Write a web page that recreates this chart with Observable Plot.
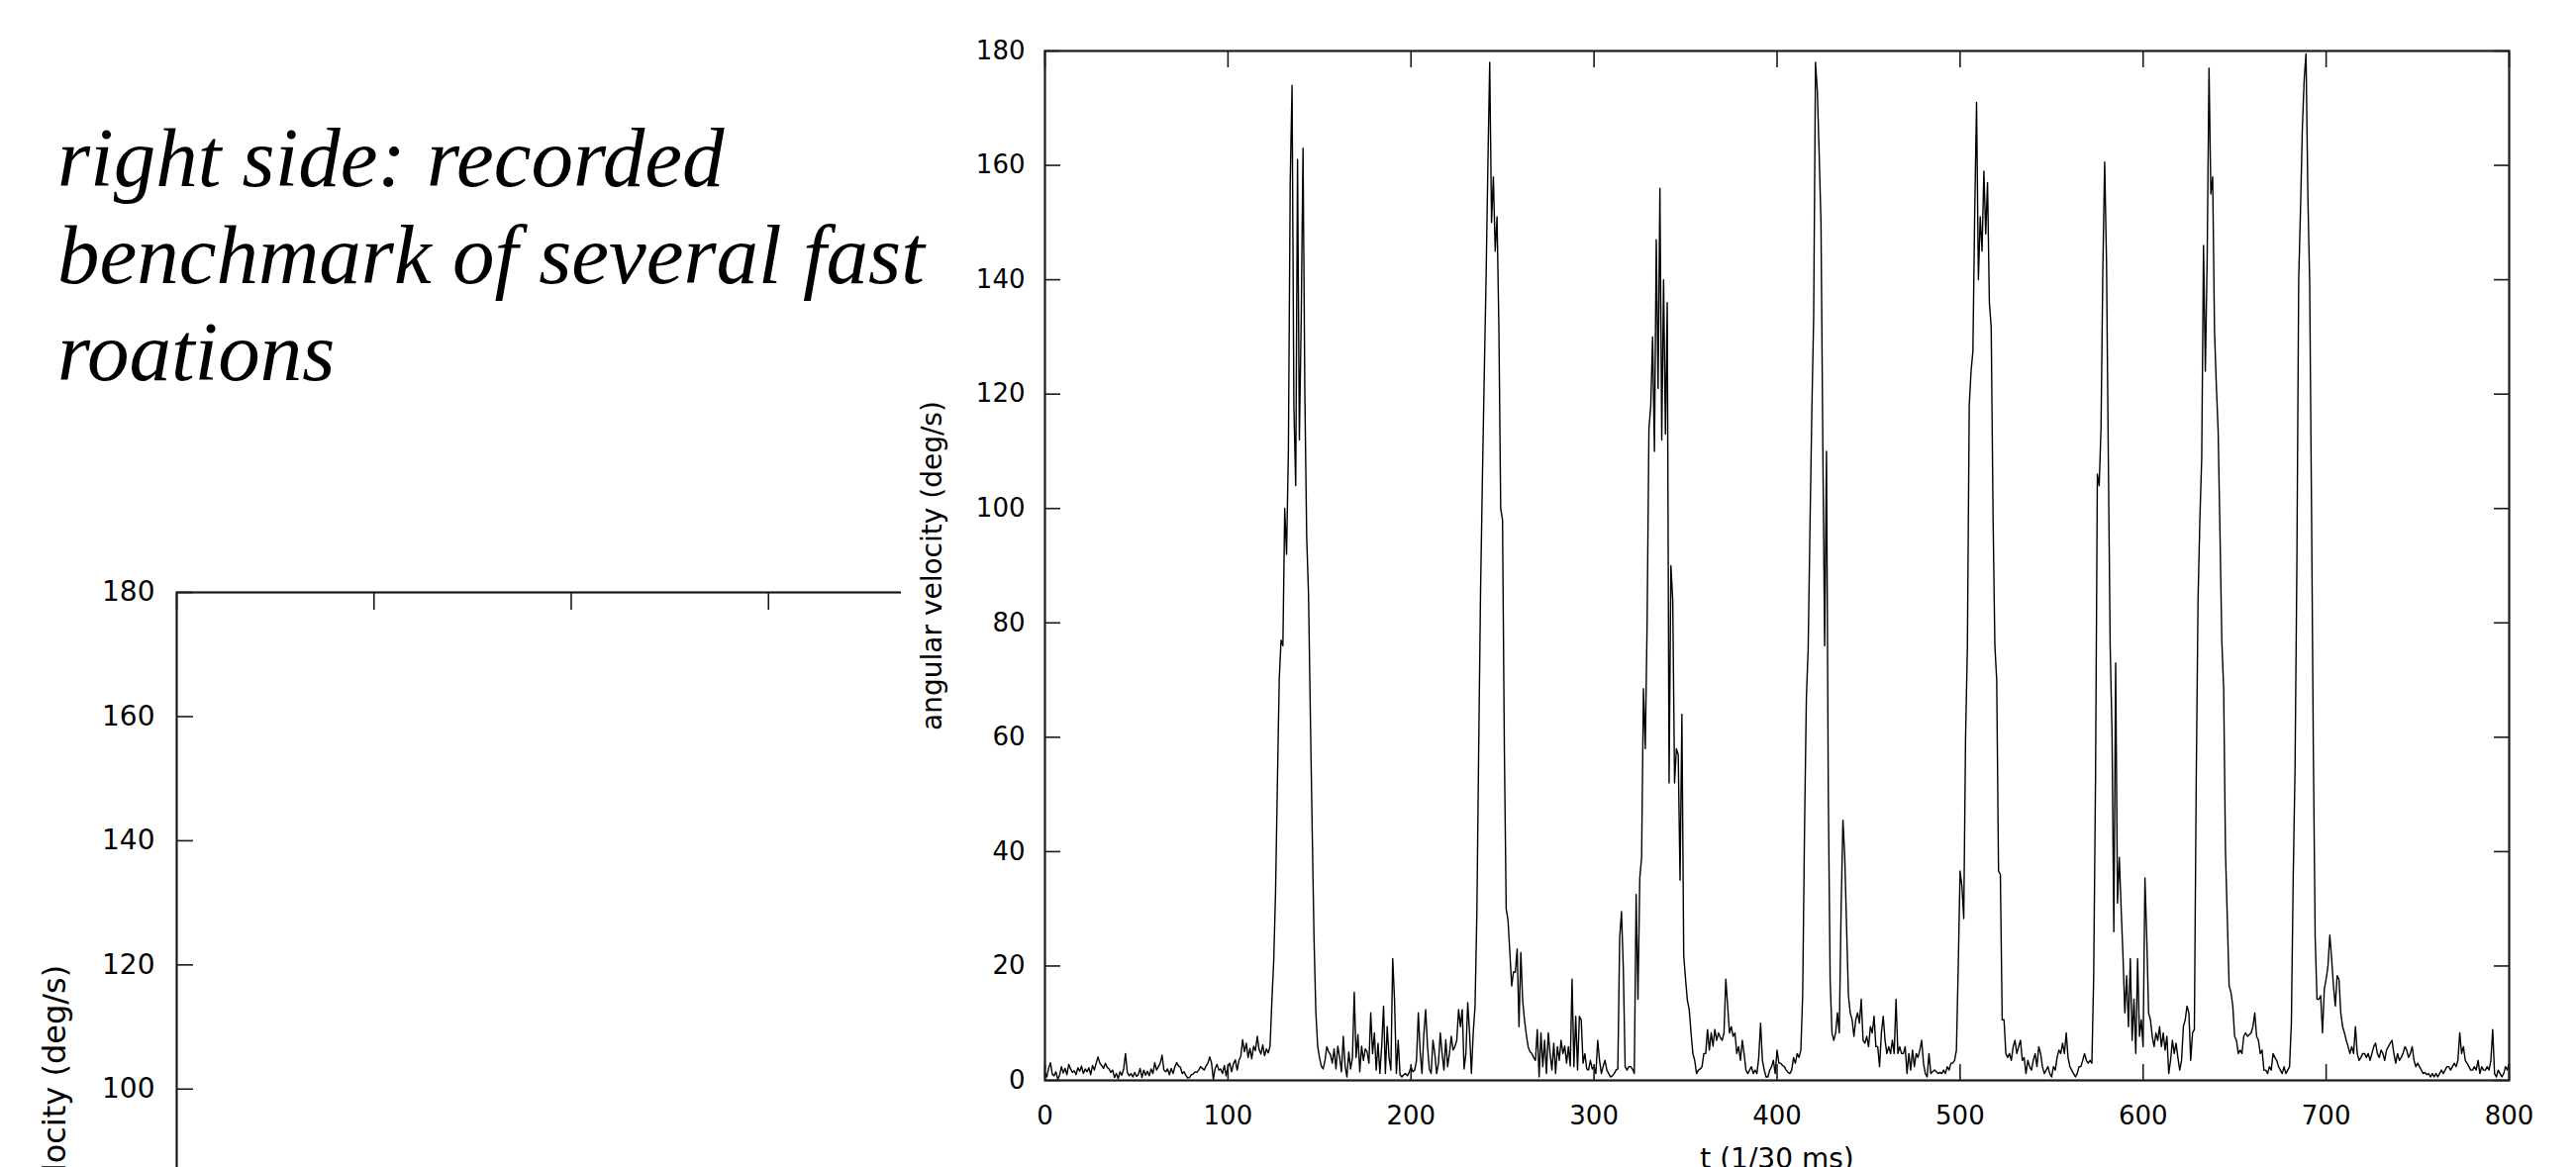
<!DOCTYPE html>
<html><head><meta charset="utf-8">
<script src="https://cdn.jsdelivr.net/npm/d3@7"></script>
<script src="https://cdn.jsdelivr.net/npm/@observablehq/plot@0.6"></script>
<style>
html,body{margin:0;padding:0;background:#fff;}
#page{position:relative;width:2602px;height:1179px;overflow:hidden;background:#fff;}
#left{position:absolute;left:0;top:0;width:1812px;}
#right{position:absolute;left:910px;top:0;width:1692px;background:#fff;}
#note{position:absolute;left:58px;top:110px;font-family:"Liberation Serif","Times New Roman",serif;font-style:italic;font-size:85px;line-height:98px;color:#000;z-index:5;white-space:nowrap;}
</style></head><body>
<div id="page">
<div id="left"></div>
<div id="right"></div>
<div id="note">right side: recorded<br>benchmark of several fast<br>roations</div>
</div>
<script>
// angular velocity (deg/s), one sample per time step t = 0..800
const vel000 = [1.4,0.6,2.1,3.1,1.1,0.8,1.5,0.2,0.9,2.4, 1.3,2.1,1.0,2.8,2.0,1.4,1.7,1.0,2.2,1.6,
  2.5,1.2,2.0,1.5,2.2,1.0,2.6,1.8,3.0,4.1, 3.0,2.6,2.1,3.0,2.3,2.0,1.4,1.8,0.5,1.2,
  0.3,1.5,0.9,2.0,4.7,1.4,0.8,1.2,0.6,1.4, 0.7,1.0,2.1,0.5,1.8,0.9,1.6,0.8,2.0,1.2,
  3.1,1.8,2.4,3.0,4.4,1.8,1.5,2.0,1.0,2.1, 1.2,2.4,3.1,2.5,2.3,1.2,1.5,0.9,0.4,0.5,
  1.0,1.1,1.5,1.4,1.8,2.4,2.1,1.8,2.5,3.0, 4.1,3.1,0.2,2.1,2.8,1.8,2.0,1.2,2.6,0.8];
const vel100 = [2.4,3.0,1.5,2.9,3.6,1.8,3.5,4.2,7.1,5.0, 6.5,4.0,5.6,3.8,6.0,5.2,7.7,5.4,4.6,6.2,
  4.3,5.5,4.8,6.0,14,21,33,52,70,77, 76,100,92,110,157,174,118,104,161,112,
  133,163,120,95,85,64,44,25,12,6, 4,2.5,2.0,3.5,5.9,5.0,4.5,3.0,5.5,2.0,
  6.0,4.0,1.5,7.7,2.5,0.6,5.0,2.0,4.0,15.4, 4.0,8.0,1.5,6.0,3.5,5.5,5.0,3.0,11.8,4.7,
  8.3,1.8,6.5,1.2,6.0,13.0,1.2,9.4,4.0,1.8, 21.3,14.0,1.2,7.0,1.0,0.6,1.0,1.2,0.8,1.4];
const vel200 = [2.4,1.5,1.8,3.5,11.8,5.0,1.2,8.0,12.4,6.0, 2.0,1.2,7.0,4.7,1.2,3.0,8.3,4.7,1.8,7.1,
  2.4,4.7,7.7,5.3,5.9,7.0,12.4,9.4,12.4,2.0, 4.7,13.6,8.3,1.2,8.3,13.0,29.5,58.5,85.6,105,
  123,140,160,178,150,158,145,151,132,100, 98,58,30,28,22.4,16.5,19,18.9,23,9.4,
  22.4,14,10.6,8,5.9,5,4.7,4.0,3.5,8.9, 0.6,8.3,2.4,7,1.2,8.3,4.7,1.8,6.5,1.2,
  5.9,3.5,7.0,4.7,6.0,3.0,5.9,2.5,17.7,2.4, 11.2,1.8,11.2,10.6,3.0,4.7,2.0,1.8,3.5,2.0];
const vel300 = [2.4,1.2,7.0,3.5,1.2,2.5,3.5,1.8,1.2,0.6, 0.8,1.2,1.8,2.0,24.8,29.5,19.5,2.4,1.8,2.4,
  2.4,2.0,1.2,32.5,14.2,35.4,39,68.5,58,80, 114,118,130,110,147,121,156,112,140,113,
  136,52,90,84,52,58,57,35,64,21.8, 17.7,14,12.4,8.3,4.7,3.5,1.2,1.8,2.0,2.4,
  4.7,4.7,8.9,5.3,8.3,6.0,8.9,7.0,8.3,7.5, 7.0,8.3,17.7,13,8.3,9.4,7.7,8.3,4.7,5.9,
  3.5,7.0,4.7,1.8,1.2,1.8,2.4,1.2,1.8,1.2, 4.0,10.0,3.5,1.8,0.6,0.6,1.8,2.4,3.5,1.2];
const vel400 = [5.3,3.0,3.0,2.6,2.4,1.8,1.4,1.2,1.8,4.0, 3.0,4.7,4.0,5.3,15,43.7,66.7,75.6,97,117,
  133.5,178,173,162,150,111,76,110,50,17.7, 8.3,7.0,8.3,11.8,8.3,30,45.5,39,26.6,14.8,
  11.8,10.6,7.7,10.6,11.8,10,14.2,7.0,6.5,7.7, 5.9,9.4,8.3,11.2,5.9,5.9,2.4,8.3,11.2,7.0,
  4.7,5.9,4.7,7.0,4.7,14.2,4.7,5.9,4.7,4.7, 5.9,1.2,4.7,1.8,5.3,2.4,4.7,4.0,5.3,7.0,
  3.0,1.2,0.6,4.7,1.2,1.5,1.8,1.5,1.2,1.4, 1.2,1.8,1.2,2.4,1.8,3.0,3.0,3.5,5.3,20];
const vel500 = [36.6,34,28.3,60,76,118,124,127.5,152,171, 140,151,145,159,148,157,136,131.7,99,76,
  70,36.6,36,10.6,10.6,4.7,4.0,4.7,3.5,5.9, 7.0,4.7,5.9,7.0,3.5,4.0,1.2,3.5,2.4,1.8,
  3.5,4.7,2.4,5.9,4.7,2.4,1.2,1.8,2.4,1.2, 0.6,2.4,1.8,4.0,5.3,4.7,6.5,4.7,8.3,4.0,
  2.4,1.8,1.2,0.6,1.2,2.4,2.4,3.5,4.7,3.5, 3.0,3.5,3.0,18.3,53,106,104,114,142,160.6,
  143,108.5,76,61,26,73,31,39,30,21.8, 11.8,18.3,9.4,21.3,7.0,14.2,4.7,21.3,7.7,10.6];
const vel600 = [5.9,35.4,24.8,11.8,10.6,7.7,5.9,8.3,7.0,9.4, 5.9,8.3,5.3,7.7,1.2,3.5,7.0,4.7,6.5,4.0,
  1.8,3.5,9.4,10.6,13,11.8,3.5,8.3,8.9,52, 84,98,108.6,146,124,144,177,155,158,131,
  121.6,113.4,95.7,76.8,68.5,40,28.3,16.5,15.4,13, 7.7,7.0,4.7,5.3,4.7,7.7,8.3,7.7,8.0,8.3,
  9.4,11.8,7.7,7.0,4.7,5.3,1.8,1.8,1.2,2.4, 1.8,4.7,4.0,3.5,2.4,1.8,1.2,2.4,1.2,1.8,
  2.4,10,35.4,54.3,90,140,152.4,166.5,175,179.5, 155,139.4,100.4,57.9,25,14.2,14.2,14.8,8.3,16];
const vel700 = [17.7,20,25.4,21.3,16.5,13,18.3,17.7,11.8,9.4, 8.3,7.0,5.9,4.7,5.9,4.7,9.4,4.7,3.5,4.0,
  4.7,4.7,4.0,4.7,3.5,4.7,5.9,6.5,4.7,4.0, 5.3,4.7,3.5,5.3,5.9,6.5,7.0,4.7,3.0,4.7,
  3.5,4.0,4.7,5.9,5.3,4.0,4.7,5.9,3.5,2.4, 3.0,2.4,1.8,1.2,1.4,1.0,1.2,0.6,1.2,0.6,
  1.2,0.6,1.2,1.8,1.2,1.8,2.4,2.4,1.8,2.4, 3.0,2.4,3.5,8.3,4.7,5.9,3.5,3.0,2.4,1.8,
  1.8,2.4,1.8,3.5,1.2,2.4,1.8,1.8,2.4,1.8, 3.5,8.9,1.2,0.6,1.8,1.2,0.6,1.2,2.4,1.8, 3.0];

const xTicks = [0, 100, 200, 300, 400, 500, 600, 700, 800];
const yTicks = [0, 20, 40, 60, 80, 100, 120, 140, 160, 180];
const yLabel = "angular velocity (deg/s)";
const xLabel = "t (1/30 ms)";

const velocity = [].concat(vel000, vel100, vel200, vel300, vel400, vel500, vel600, vel700);
const series = velocity.map((v, i) => ({t: i, v}));

const ink = "#1a1a1a";

// right chart (recorded benchmark)
const right = Plot.plot({
  width: 1692, height: 1179,
  marginLeft: 145, marginRight: 68, marginTop: 51, marginBottom: 88,
  style: {fontFamily: "DejaVu Sans", fontSize: "26px", background: "#fff", color: "#000", maxWidth: "none", overflow: "visible"},
  x: {domain: [0, 800], label: null},
  y: {domain: [0, 180], label: null},
  marks: [
    Plot.line(series, {x: "t", y: "v", stroke: "#000", strokeWidth: 1.4}),
    Plot.axisX(xTicks, {anchor: "bottom", tickSize: -16, tickPadding: 42, stroke: ink, strokeWidth: 1.6, label: null}),
    Plot.axisX(xTicks, {anchor: "top", tickSize: -16, fill: "none", stroke: ink, strokeWidth: 1.6, label: null}),
    Plot.axisY(yTicks, {anchor: "left", tickSize: -16, tickPadding: 36, stroke: ink, strokeWidth: 1.6, label: null}),
    Plot.axisY(yTicks, {anchor: "right", tickSize: -16, fill: "none", stroke: ink, strokeWidth: 1.6, label: null}),
    Plot.frame({stroke: ink, strokeWidth: 2.2}),
    Plot.text([yLabel], {text: d => d, frameAnchor: "left", textAnchor: "middle", rotate: -90, dx: -113, fontSize: 28}),
    Plot.text([xLabel], {text: d => d, frameAnchor: "bottom", textAnchor: "middle", lineAnchor: "top", dy: 69, fontSize: 28})
  ]
});
document.getElementById("right").appendChild(right);

// left chart (partly hidden behind the right one, cut off below the page)
const leftYTicks = yTicks.filter(d => d >= 100);
const left = Plot.plot({
  width: 1812, height: 1787,
  marginLeft: 178, marginRight: 40, marginTop: 598, marginBottom: 60,
  style: {fontFamily: "DejaVu Sans", fontSize: "28px", background: "#fff", color: "#000", maxWidth: "none"},
  x: {domain: [0, 800], label: null},
  y: {domain: [0, 180], label: null},
  marks: [
    Plot.axisX(xTicks, {anchor: "top", tickSize: -17, fill: "none", stroke: ink, strokeWidth: 1.6, label: null}),
    Plot.axisY(leftYTicks, {anchor: "left", tickSize: -17, tickPadding: 39, stroke: ink, strokeWidth: 1.6, label: null}),
    Plot.frame({stroke: ink, strokeWidth: 2.2}),
    Plot.text([yLabel], {text: d => d, frameAnchor: "left", textAnchor: "middle", rotate: -90, dx: -123, dy: 2, fontSize: 32})
  ]
});
document.getElementById("left").appendChild(left);
</script>
</body></html>
